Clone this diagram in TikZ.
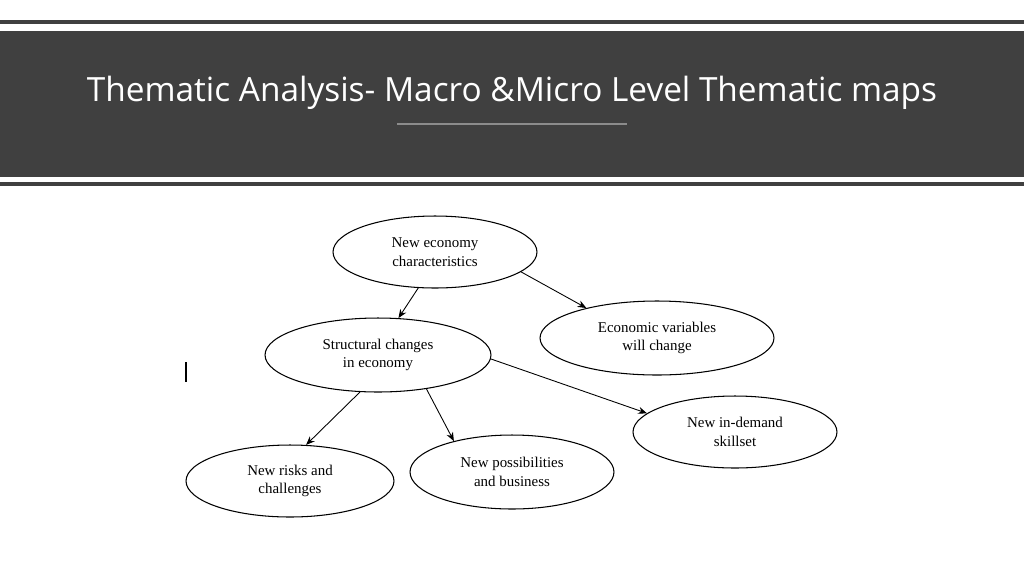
\documentclass[tikz,border=0pt]{standalone}
\usepackage{fontspec}
\setmainfont{Liberation Serif}
\newfontfamily\titlefont{Open Sans}
\usetikzlibrary{shapes.geometric,arrows.meta}
\begin{document}
\begin{tikzpicture}[x=0.02cm,y=-0.02cm,
  bub/.style={ellipse,draw,line width=0.6pt,inner sep=0pt,align=center,font=\fontsize{8.5}{10.5}\selectfont},
  arr/.style={-{Stealth[length=5pt,width=4pt]},line width=0.5pt}]
\useasboundingbox (0,0) rectangle (1024,576);
\fill[white] (0,0) rectangle (1024,576);
\fill[black!75] (0,20) rectangle (1024,24);
\fill[black!75] (0,31) rectangle (1024,177);
\fill[black!75] (0,182) rectangle (1024,186);
\node[text=white,font=\titlefont\fontsize{19}{22}\selectfont] (title) at (512,93) {Thematic Analysis- Macro \&Micro Level Thematic maps};
\draw[black!45,line width=0.6pt] (397,124) -- (627,124);
\draw[line width=0.6pt] (186,362) -- (186,382);
\node[bub,minimum width=4.08cm,minimum height=1.44cm] (a) at (435,252) {New economy\\characteristics};
\node[bub,minimum width=4.68cm,minimum height=1.48cm] (b) at (657,338) {Economic variables\\will change};
\node[bub,minimum width=4.52cm,minimum height=1.48cm] (c) at (378,355) {Structural changes\\in economy};
\node[bub,minimum width=4.08cm,minimum height=1.44cm] (d) at (735,432) {New in-demand\\skillset};
\node[bub,minimum width=4.16cm,minimum height=1.44cm] (e) at (290,481) {New risks and\\challenges};
\node[bub,minimum width=4.08cm,minimum height=1.48cm] (f) at (512,472) {New possibilities\\and business};
\draw[arr] (a.245) -- (c.61);
\draw[arr] (a.347) -- (b.157);
\draw[arr] (c.358) -- (d.168);
\draw[arr] (c.244) -- (e.66);
\draw[arr] (c.325) -- (f.152);
\end{tikzpicture}
\end{document}
